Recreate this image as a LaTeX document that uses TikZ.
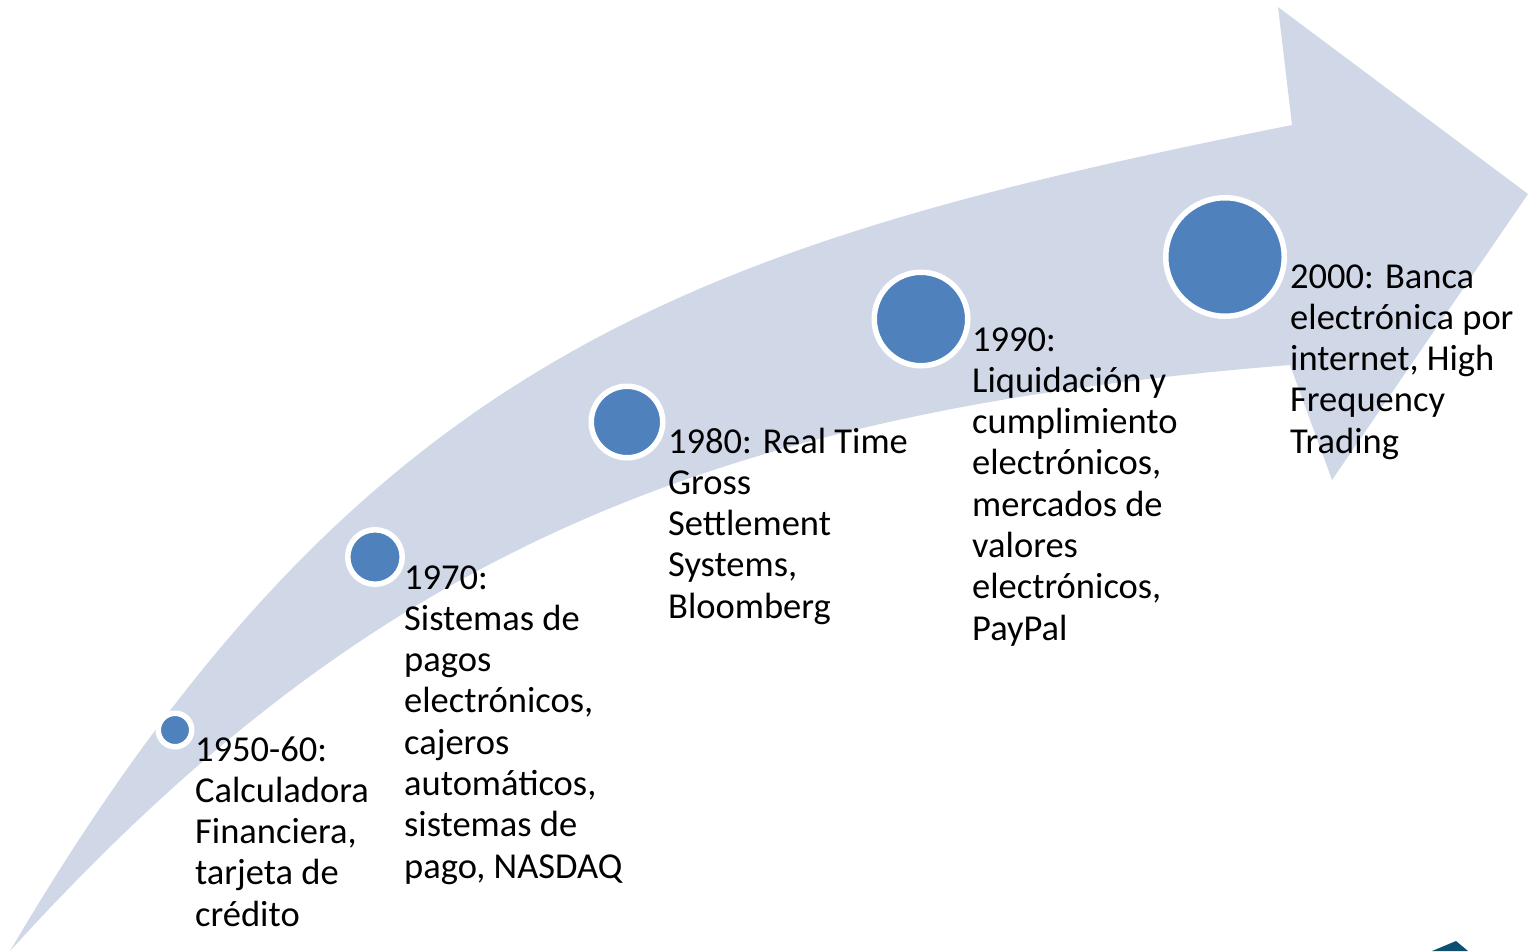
\documentclass[tikz,border=0pt]{standalone}
\usepackage{fontspec}
\setmainfont{Carlito}
\definecolor{band}{HTML}{D0D8E8}
\definecolor{dotblue}{HTML}{4F81BD}
\definecolor{darkteal}{HTML}{0C5073}
\begin{document}
\begin{tikzpicture}[x=1pt,y=-1pt,
  dot/.style={circle, fill=dotblue, draw=white, line width=5.5pt, inner sep=0pt},
  lbl/.style={anchor=base west, inner sep=0pt, font=\fontsize{36.5}{41.3}\selectfont}]
\useasboundingbox (0,0) rectangle (1528,951);
% curved arrow
\fill[band] (10,951) .. controls (360,356) and (692,245) .. (1292,125)
  -- (1278,7) -- (1528,194) -- (1332,480) -- (1290,365)
  .. controls (690,413) and (360,566) .. (10,951) -- cycle;
% small dark corner shape
\fill[darkteal] (1432,951) -- (1456,941) -- (1468,951) -- cycle;
% dots
\node[dot, minimum size=33.5pt] (c1) at (175,730) {};
\node[dot, minimum size=54.5pt] (c2) at (375,557) {};
\node[dot, minimum size=71.5pt] (c3) at (627,422) {};
\node[dot, minimum size=93.5pt] (c4) at (921,319) {};
\node[dot, minimum size=118.5pt] (c5) at (1225,257) {};
% labels
\node[lbl] (t1) at (195,761) {\begin{tabular}[t]{@{}l@{}}1950-60:\\Calculadora\\Financiera,\\tarjeta de\\crédito\end{tabular}};
\node[lbl] (t2) at (404,589) {\begin{tabular}[t]{@{}l@{}}1970:\\Sistemas de\\pagos\\electrónicos,\\cajeros\\automáticos,\\sistemas de\\pago, NASDAQ\end{tabular}};
\node[lbl] (t3) at (668,453) {\begin{tabular}[t]{@{}l@{}}1980: Real Time\\Gross\\Settlement\\Systems,\\Bloomberg\end{tabular}};
\node[lbl] (t4) at (972,351) {\begin{tabular}[t]{@{}l@{}}1990:\\Liquidación y\\cumplimiento\\electrónicos,\\mercados de\\valores\\electrónicos,\\PayPal\end{tabular}};
\node[lbl] (t5) at (1290,288) {\begin{tabular}[t]{@{}l@{}}2000: Banca\\electrónica por\\internet, High\\Frequency\\Trading\end{tabular}};
\end{tikzpicture}
\end{document}
